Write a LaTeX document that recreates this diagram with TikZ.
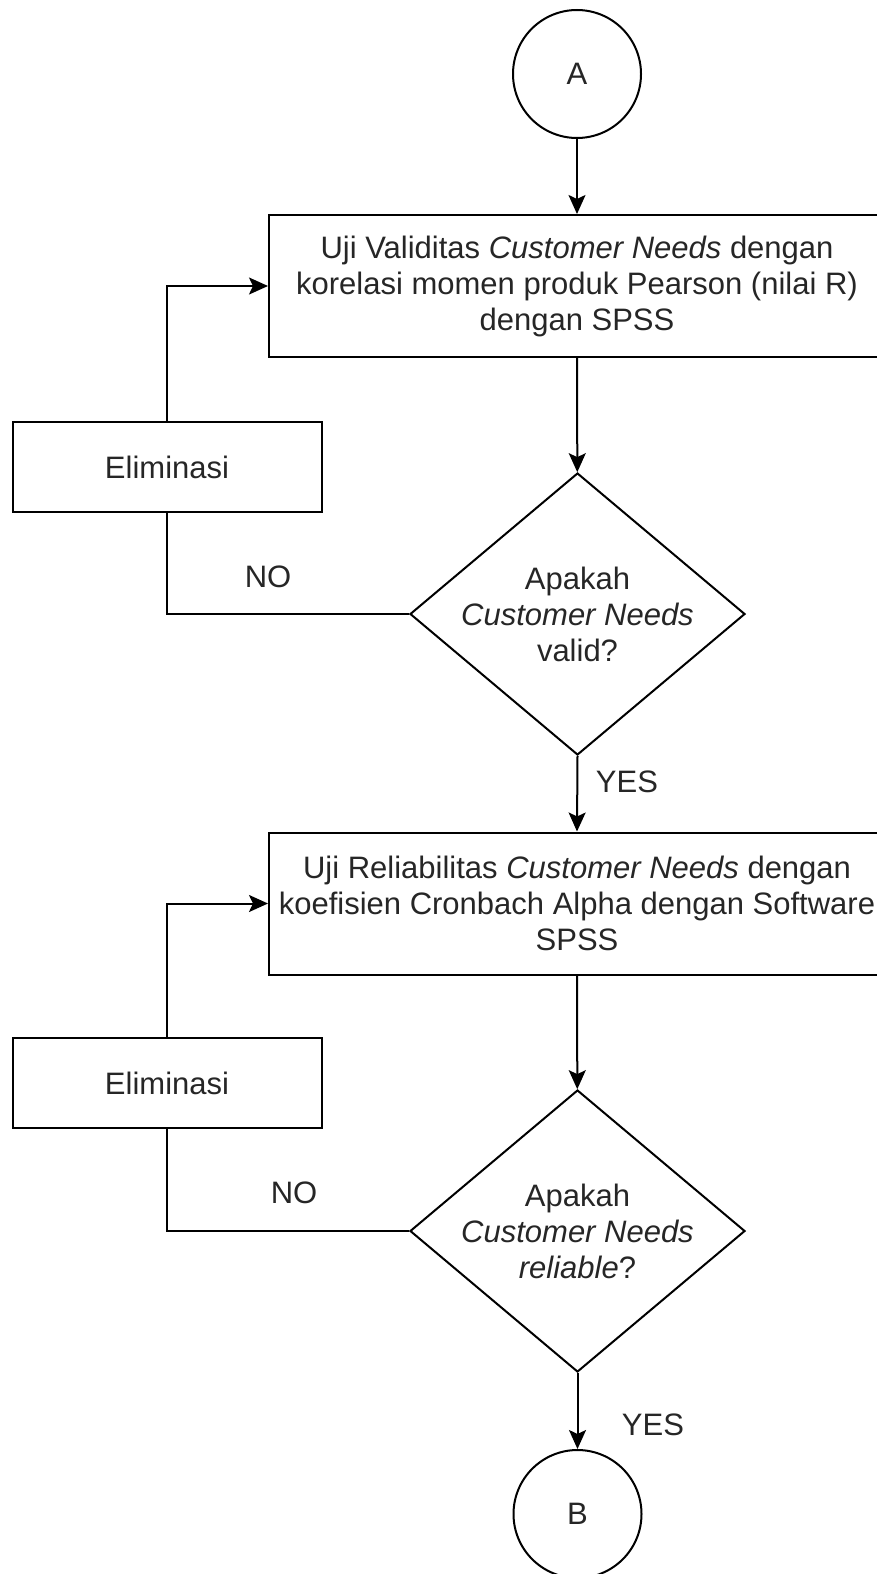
\documentclass[tikz,border=0pt]{standalone}
\usepackage{fontspec}
\setmainfont{Liberation Sans}
\usetikzlibrary{shapes.geometric,arrows.meta}
\begin{document}
\begin{tikzpicture}[x=1pt,y=-1pt,
  every node/.style={font=\fontsize{31}{36}\selectfont, text=black!85},
  conn/.style={draw=black, line width=2pt},
  arr/.style={conn, -{Stealth[length=19pt,width=17pt,inset=4pt]}},
  procbox/.style={draw=black, line width=2pt, rectangle, minimum width=616pt,
    minimum height=142pt, align=center, inner sep=0pt},
  elimbox/.style={draw=black, line width=2pt, rectangle, minimum width=309pt,
    minimum height=90pt, inner sep=0pt},
  decision/.style={draw=black, line width=2pt, diamond, minimum width=335pt,
    minimum height=282pt, inner sep=0pt},
  decisiontext/.style={align=center, inner sep=0pt},
  linkcircle/.style={draw=black, line width=2pt, circle, minimum size=128pt, inner sep=0pt},
  lbl/.style={inner sep=0pt}]
\useasboundingbox (0,0) rectangle (877,1574);

% upper part: validity test
\node[linkcircle] (A) at (577,74) {A};
\node[procbox] (v1) at (577,286)
  {Uji Validitas \textit{Customer Needs} dengan\\korelasi momen produk Pearson (nilai R)\\dengan SPSS};
\node[decision] (d1) at (577.5,614) {};
\node[decisiontext] (d1t) at (d1) {Apakah\\\textit{Customer Needs}\\valid?};
\node[elimbox] (e1) at (167,467) {Eliminasi};
\node[lbl] (no1) at (268,577) {NO};
\node[lbl] (yes1) at (627,782) {YES};

% lower part: reliability test
\node[procbox] (v2) at (577,903.5)
  {Uji Reliabilitas \textit{Customer Needs} dengan\\koefisien Cronbach Alpha dengan Software\\SPSS};
\node[decision] (d2) at (577.5,1231) {};
\node[decisiontext] (d2t) at (d2) {Apakah\\\textit{Customer Needs}\\\textit{reliable}?};
\node[elimbox] (e2) at (167,1083) {Eliminasi};
\node[lbl] (no2) at (294,1193) {NO};
\node[lbl] (yes2) at (653,1425) {YES};
\node[linkcircle] (B) at (577.5,1514) {B};

% connectors
\draw[arr] (A) -- (v1);
\draw[arr] (v1) -- (d1);
\draw[conn] (d1.west) -| (e1.south);
\draw[arr] (e1.north) |- (v1.west);
\draw[arr] (d1.south) -- (v2.north);
\draw[arr] (v2) -- (d2);
\draw[conn] (d2.west) -| (e2.south);
\draw[arr] (e2.north) |- (v2.west);
\draw[arr] (d2.south) -- (B.north);
\end{tikzpicture}
\end{document}
